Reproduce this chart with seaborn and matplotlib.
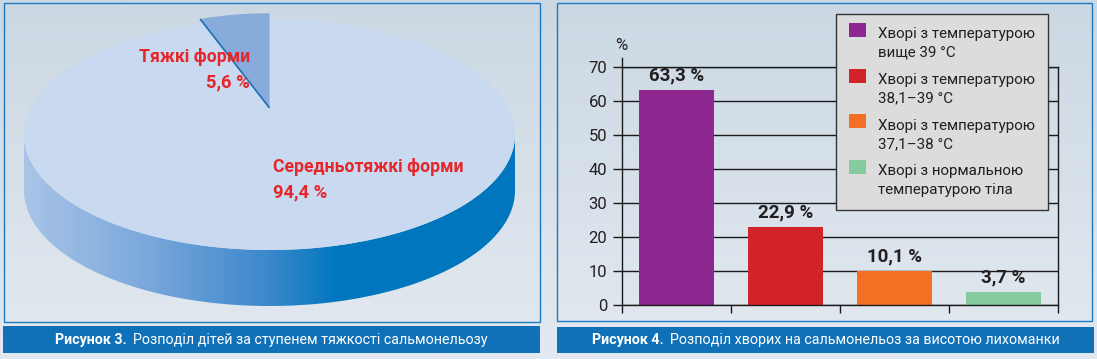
import numpy as np
import pandas as pd
import matplotlib
matplotlib.use("Agg")
import matplotlib.pyplot as plt
import seaborn as sns
from matplotlib.patches import Rectangle, PathPatch
from matplotlib.path import Path
from matplotlib.legend_handler import HandlerPatch
from matplotlib.colors import LinearSegmentedColormap
from matplotlib.font_manager import FontProperties

# ---------------- data ----------------
pie_labels = ["Тяжкі форми", "Середньотяжкі форми"]
pie_values = [5.6, 94.4]

bar_categories = [
    "Хворі з температурою\nвище 39 °C",
    "Хворі з температурою\n38,1–39 °C",
    "Хворі з температурою\n37,1–38 °C",
    "Хворі з нормальною\nтемпературою тіла",
]
bar_values = [63.3, 22.9, 10.1, 3.7]
bar_colors = ["#8e278f", "#d2232a", "#f36f23", "#86cb9e"]
y_ticks = [0, 10, 20, 30, 40, 50, 60, 70]
y_unit = "%"

caption_left = ("Рисунок 3.", "Розподіл дітей за ступенем тяжкості сальмонельозу")
caption_right = ("Рисунок 4.", "Розподіл хворих на сальмонельоз за висотою лихоманки")


def fmt(v):
    return f"{v:.1f}".replace(".", ",") + " %"


# ---------------- figure ----------------
W, H = 1097, 359
sns.set_theme(style="white")
plt.rcParams["font.family"] = ["Roboto", "DejaVu Sans"]

fig = plt.figure(figsize=(W / 100, H / 100), dpi=100)
fig.patch.set_facecolor("#e2e8ef")


def fx(px):
    return px / W


def fy(py):
    return 1 - py / H


def frect(x0, y0, x1, y1):
    return [fx(x0), fy(y1), (x1 - x0) / W, (y1 - y0) / H]


# background gradient
bg = fig.add_axes([0, 0, 1, 1], zorder=-10)
bg_cmap = LinearSegmentedColormap.from_list("bg", ["#cbd8e3", "#e3e9f0"])
bg.imshow(np.linspace(0, 1, 256).reshape(-1, 1), aspect="auto", cmap=bg_cmap,
          extent=[0, 1, 0, 1])
bg.set_axis_off()

# panel frames and caption bars
for (x0, y0, x1, y1) in [(4, 3, 540, 322), (557, 3, 1092, 321)]:
    fig.add_artist(Rectangle((fx(x0), fy(y1)), (x1 - x0) / W, (y1 - y0) / H,
                             transform=fig.transFigure, fill=False,
                             edgecolor="#1a7ac3", lw=1.0, zorder=1))
for (x0, y0, x1, y1) in [(3, 326, 540, 353), (557, 327, 1094, 353)]:
    fig.add_artist(Rectangle((fx(x0), fy(y1)), (x1 - x0) / W, (y1 - y0) / H,
                             transform=fig.transFigure, facecolor="#1071b8",
                             edgecolor="none", zorder=1))

renderer = fig.canvas.get_renderer()


def caption(parts, x0, x1, yc):
    t1 = fig.text(0, fy(yc), parts[0], fontsize=10.3, fontweight="bold",
                  color="white", va="center", ha="left", zorder=3)
    t2 = fig.text(0, fy(yc), parts[1], fontsize=10.3, color="white",
                  va="center", ha="left", zorder=3)
    w1 = t1.get_window_extent(renderer).width
    w2 = t2.get_window_extent(renderer).width
    gap = 6
    start = (x0 + x1) / 2 - (w1 + gap + w2) / 2
    t1.set_x(fx(start))
    t2.set_x(fx(start + w1 + gap))


caption(caption_left, 3, 540, 340)
caption(caption_right, 557, 1094, 340)

# ---------------- pie (left) ----------------
axp = fig.add_axes(frect(4, 3, 540, 322))
cx, cy, a, b = 269.5, 134.5, 245.5, 115.5
depth = 56 / b

t = np.linspace(np.pi, 2 * np.pi, 300)
top = np.column_stack([np.cos(t), np.sin(t)])
bot = np.column_stack([np.cos(t[::-1]), np.sin(t[::-1]) - depth])
verts = np.vstack([top, bot, top[:1]])
codes = [Path.MOVETO] + [Path.LINETO] * (len(verts) - 2) + [Path.CLOSEPOLY]
side = PathPatch(Path(verts, codes), facecolor="none", edgecolor="none")
axp.add_patch(side)
side_cmap = LinearSegmentedColormap.from_list(
    "side", [(0, "#a9c4e8"), (0.25, "#7aa8db"), (0.5, "#3a88cb"),
             (0.64, "#0077c0"), (1, "#0076bf")])
im = axp.imshow(np.linspace(0, 1, 256).reshape(1, -1), cmap=side_cmap,
                extent=[-1, 1, -1 - depth, 0.1], aspect="auto", zorder=1)
im.set_clip_path(side)

face = "#c9d9ef"
axp.pie(pie_values, startangle=90, counterclock=True, colors=[face, face],
        radius=1, wedgeprops=dict(linewidth=0, zorder=2))
small, _ = axp.pie(pie_values, startangle=90, counterclock=True,
                   colors=["#87acdb", "none"], radius=0.82, center=(0, 0.23),
                   wedgeprops=dict(linewidth=0, zorder=3))
wd = small[0]
th = np.deg2rad(wd.theta2)
axp.plot([wd.center[0], wd.center[0] + wd.r * np.cos(th)],
         [wd.center[1], wd.center[1] + wd.r * np.sin(th)],
         color="#1c6fb9", lw=1.2, zorder=4, solid_capstyle="butt")

axp.set_aspect("auto")
axp.set_xlim((4 - cx) / a, (540 - cx) / a)
axp.set_ylim((cy - 322) / b, (cy - 3) / b)
axp.axis("off")

red = "#e5262b"
pfs = 12.7
fig.text(fx(250), fy(62), pie_labels[0], color=red, fontsize=pfs,
         fontweight="bold", ha="right", va="baseline")
fig.text(fx(250), fy(87), fmt(pie_values[0]), color=red, fontsize=pfs + 0.5,
         fontweight="bold", ha="right", va="baseline")
fig.text(fx(273), fy(172), pie_labels[1], color=red, fontsize=pfs,
         fontweight="bold", ha="left", va="baseline")
fig.text(fx(273), fy(197), fmt(pie_values[1]), color=red, fontsize=pfs + 0.5,
         fontweight="bold", ha="left", va="baseline")

# ---------------- bars (right) ----------------
axb = fig.add_axes(frect(622, 67, 1058, 305))
axb.set_facecolor("none")
df = pd.DataFrame({"cat": bar_categories, "val": bar_values})
sns.barplot(data=df, x="cat", y="val", hue="cat", palette=bar_colors,
            width=0.69, saturation=1, legend=False, ax=axb, zorder=2,
            linewidth=0, edgecolor="none")

axb.set_xlim(-0.5, len(bar_categories) - 0.5)
axb.set_ylim(0, 70)
axb.set_xticks(np.arange(len(bar_categories) + 1) - 0.5)
axb.set_xticklabels([])
axb.set_yticks(y_ticks)
axb.set_yticklabels([str(v) for v in y_ticks])
axb.set_xlabel("")
axb.set_ylabel("")
axb.set_axisbelow(True)
axb.yaxis.grid(True, color="#1a1a1a", lw=1.0)
axb.xaxis.grid(False)
axb.tick_params(axis="x", direction="out", length=5.8, width=1.0, color="#1a1a1a",
                bottom=True)
axb.tick_params(axis="y", direction="out", length=6.5, width=1.0, color="#1a1a1a",
                left=True, labelsize=12, labelcolor="#231f20", pad=4)
for s in ["left", "right", "top", "bottom"]:
    axb.spines[s].set_visible(True)
    axb.spines[s].set_color("#1a1a1a")
    axb.spines[s].set_linewidth(1.0)
axb.spines["left"].set_bounds(0, 70 + 9 * 70 / 238)

for c in axb.containers:
    axb.bar_label(c, labels=[fmt(p.get_height()) for p in c], padding=4,
                  fontsize=13.5, fontweight="bold", color="#231f20")

fig.text(fx(621), fy(46), y_unit, fontsize=12, color="#231f20",
         ha="center", va="center")

# legend
fs = 10.9
lsp = 1.45
_w, lp_h, lp_d = renderer.get_text_width_height_descent(
    "lp", FontProperties(family=["Roboto", "DejaVu Sans"], size=fs), ismath=False)
line_gap_pt = ((lp_h - lp_d) * lsp + lp_d) * 72 / fig.dpi


def square(legend, orig_handle, xdescent, ydescent, width, height, fontsize):
    return Rectangle((-xdescent, line_gap_pt - 5.0), width, height)


handles = [c[0] for c in axb.containers]
leg = axb.legend(handles, bar_categories, loc="upper left",
                 bbox_to_anchor=(fx(836), fy(14)), bbox_transform=fig.transFigure,
                 borderaxespad=0, fontsize=fs, frameon=True, fancybox=False,
                 facecolor="#dcdcdc", edgecolor="#333333", framealpha=1,
                 borderpad=0.85, labelspacing=0.85, handlelength=12.2 / fs,
                 handleheight=11.5 / fs, handletextpad=8.6 / fs,
                 handler_map={Rectangle: HandlerPatch(patch_func=square)})
leg.get_frame().set_linewidth(1.0)
for tx in leg.get_texts():
    tx.set_color("#231f20")
    tx.set_linespacing(lsp)

fig.savefig("out.png", dpi=100, facecolor=fig.get_facecolor())
